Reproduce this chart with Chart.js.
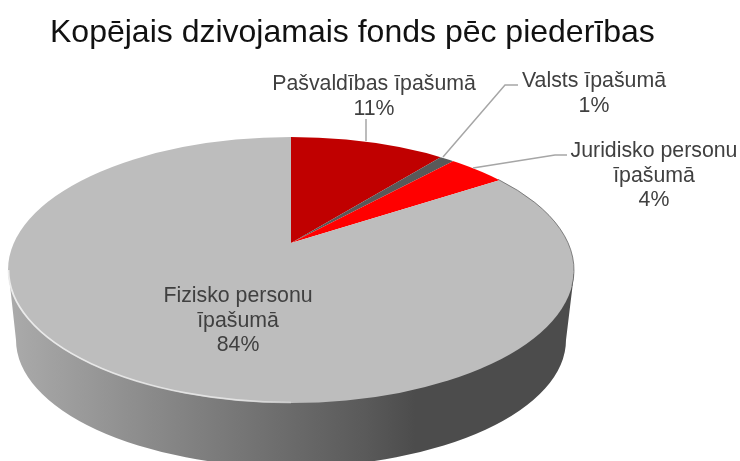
<!DOCTYPE html>
<html><head><meta charset="utf-8">
<script src="https://cdn.jsdelivr.net/npm/chart.js@4"></script>
<style>html,body{margin:0;padding:0;background:#fff}#w{position:relative;width:740px;height:461px}</style>
</head><body><div id="w"><canvas id="c" width="740" height="461"></canvas></div>
<script>
const titleText = 'Kopējais dzivojamais fonds pēc piederības';
const categories = ['Pašvaldības īpašumā', 'Valsts īpašumā', 'Juridisko personu īpašumā', 'Fizisko personu īpašumā'];
const shares = [11, 1, 4, 84];
const sliceColors = ['#C00000', '#595959', '#FF0000', '#BDBDBD'];

// label layout (separate from the data)
const labelLines = [['Pašvaldības īpašumā'], ['Valsts īpašumā'], ['Juridisko personu', 'īpašumā'], ['Fizisko personu', 'īpašumā']];
const labelAnchors = [[374, 84], [594, 81], [654, 151], [238, 296]];
const leaders = [
  [[366, 119], [366, 141]],
  [[518, 85], [505, 85], [443, 157]],
  [[567, 155], [555, 155], [473, 168]],
  []
];
// 3D look of the pie
const apex = {x: 291, y: 243, k: 0.474};
const face = {x: 291, y: 270, rx: 283, ry: 133};
const base = {x: 291, y: 340, rx: 275, ry: 127};

const pie3d = {
  id: 'pie3d',
  beforeDatasetsDraw(chart) {
    const ctx = chart.ctx;
    ctx.save();
    const g = ctx.createLinearGradient(8, 0, 574, 0);
    g.addColorStop(0, '#ababab');
    g.addColorStop(0.3, '#848484');
    g.addColorStop(0.63, '#5a5a5a');
    g.addColorStop(0.72, '#4c4c4c');
    g.addColorStop(1, '#4c4c4c');
    ctx.fillStyle = g;
    ctx.beginPath();
    ctx.moveTo(face.x - face.rx + 1, face.y + 6);
    ctx.ellipse(base.x, base.y, base.rx, base.ry, 0, Math.PI, 0, true);
    ctx.lineTo(face.x + face.rx, face.y + 4);
    ctx.closePath();
    ctx.fill();
    ctx.restore();
  },
  beforeDatasetDraw(chart, args) {
    const ctx = chart.ctx;
    const arc = args.meta.data[0];
    ctx.save();
    ctx.beginPath();
    ctx.ellipse(face.x, face.y, face.rx, face.ry, 0, 0, Math.PI * 2);
    ctx.clip();
    ctx.translate(apex.x, apex.y);
    ctx.scale(1, apex.k);
    ctx.translate(-arc.x, -arc.y);
  },
  afterDatasetDraw(chart) {
    chart.ctx.restore();
  },
  afterDatasetsDraw(chart) {
    const ctx = chart.ctx;
    ctx.save();
    // soft light rim along the lower-left edge of the top face
    const g = ctx.createLinearGradient(8, 0, 340, 0);
    g.addColorStop(0, 'rgba(240,240,240,0.9)');
    g.addColorStop(0.7, 'rgba(240,240,240,0.7)');
    g.addColorStop(1, 'rgba(240,240,240,0)');
    ctx.strokeStyle = g;
    ctx.lineWidth = 1.8;
    ctx.filter = 'blur(0.6px)';
    ctx.beginPath();
    ctx.ellipse(face.x, face.y, face.rx - 0.5, face.ry - 0.5, 0, Math.PI, Math.PI / 2, true);
    ctx.stroke();
    ctx.filter = 'none';
    // thin dark edge on the right
    ctx.strokeStyle = 'rgba(90,90,90,0.7)';
    ctx.lineWidth = 1;
    ctx.beginPath();
    ctx.ellipse(face.x, face.y, face.rx, face.ry, 0, -0.75, 0.12);
    ctx.stroke();
    // leader lines
    ctx.strokeStyle = '#a6a6a6';
    ctx.lineWidth = 1.5;
    leaders.forEach(pts => {
      if (!pts.length) return;
      ctx.beginPath();
      pts.forEach((p, i) => i ? ctx.lineTo(p[0], p[1]) : ctx.moveTo(p[0], p[1]));
      ctx.stroke();
    });
    // labels
    ctx.fillStyle = '#404040';
    ctx.font = '21.3px "Liberation Sans", Arial, sans-serif';
    ctx.textAlign = 'center';
    ctx.textBaseline = 'middle';
    const total = shares.reduce((a, b) => a + b, 0);
    categories.forEach((c, i) => {
      const lines = labelLines[i].concat([Math.round(shares[i] / total * 100) + '%']);
      lines.forEach((t, j) => ctx.fillText(t, labelAnchors[i][0], labelAnchors[i][1] + j * 24.7));
    });
    ctx.restore();
  }
};

new Chart(document.getElementById('c'), {
  type: 'pie',
  data: {
    labels: categories,
    datasets: [{
      data: shares,
      backgroundColor: sliceColors,
      borderWidth: 0,
      radius: 420,
      clip: false
    }]
  },
  options: {
    responsive: false,
    animation: false,
    events: [],
    layout: {padding: {left: 50, top: 0, right: 0, bottom: 0}},
    plugins: {
      legend: {display: false},
      tooltip: {enabled: false},
      title: {
        display: true,
        text: titleText,
        align: 'start',
        fullSize: false,
        color: '#111111',
        font: {family: '"Liberation Sans", Arial, sans-serif', size: 32, weight: 'normal'},
        padding: {top: 14, bottom: 8}
      }
    }
  },
  plugins: [pie3d]
});
</script></body></html>
